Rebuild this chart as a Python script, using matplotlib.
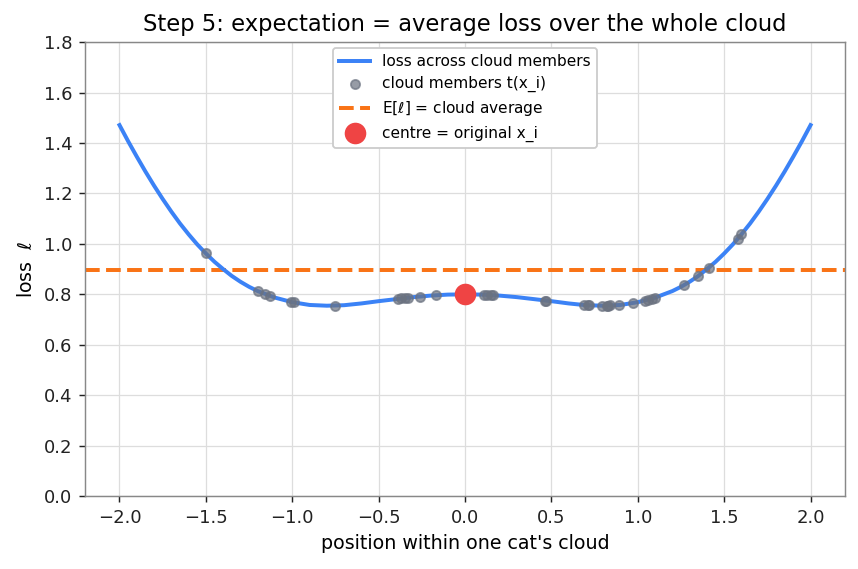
import matplotlib
matplotlib.use("Agg")
import matplotlib.pyplot as plt

# loss curve (symmetric around 0)
curve_x = [-2.0, -1.95, -1.9, -1.85, -1.8, -1.75, -1.7, -1.65, -1.6, -1.55, -1.5,
           -1.45, -1.4, -1.35, -1.3, -1.25, -1.2, -1.1, -1.0,
           -0.9, -0.8, -0.7, -0.6, -0.5, -0.4, -0.3, -0.2, -0.1, 0.0,
           0.1, 0.2, 0.3, 0.4, 0.5, 0.6, 0.7, 0.8, 0.9, 1.0,
           1.1, 1.2, 1.25, 1.3, 1.35, 1.4, 1.45, 1.5, 1.55, 1.6,
           1.65, 1.7, 1.75, 1.8, 1.85, 1.9, 1.95, 2.0]
curve_loss = [1.471, 1.407, 1.346, 1.287, 1.231, 1.178, 1.128, 1.081, 1.038, 0.998, 0.962,
              0.929, 0.900, 0.873, 0.850, 0.830, 0.813, 0.787, 0.769,
              0.758, 0.755, 0.757, 0.764, 0.773, 0.781, 0.789, 0.795, 0.799, 0.800,
              0.799, 0.795, 0.789, 0.781, 0.773, 0.764, 0.757, 0.755, 0.758, 0.769,
              0.787, 0.813, 0.830, 0.850, 0.873, 0.900, 0.929, 0.962, 0.998, 1.038,
              1.081, 1.128, 1.178, 1.231, 1.287, 1.346, 1.407, 1.471]

# cloud members
cloud_x = [-1.50, -1.20, -1.16, -1.13, -1.01, -0.99, -0.75, -0.39, -0.37, -0.35,
           -0.33, -0.26, -0.17, 0.11, 0.13, 0.15, 0.16, 0.46, 0.47, 0.69,
           0.71, 0.72, 0.79, 0.82, 0.83, 0.84, 0.89, 0.97, 1.04, 1.06,
           1.08, 1.10, 1.27, 1.35, 1.41, 1.58, 1.60]
cloud_loss = [0.962, 0.813, 0.802, 0.795, 0.770, 0.768, 0.755, 0.782, 0.784, 0.786,
              0.787, 0.791, 0.796, 0.798, 0.798, 0.797, 0.797, 0.775, 0.774, 0.757,
              0.757, 0.756, 0.755, 0.755, 0.755, 0.756, 0.759, 0.765, 0.775, 0.778,
              0.782, 0.787, 0.838, 0.873, 0.905, 1.020, 1.038]

expected_loss = 0.897
centre_x = 0.0
centre_loss = 0.80

fig, ax = plt.subplots(figsize=(6.6, 4.377), dpi=130)
fig.subplots_adjust(left=0.099, right=0.985, top=0.926, bottom=0.128)

ax.plot(curve_x, curve_loss, color="#3b82f6", lw=2.2, label="loss across cloud members", zorder=3)
ax.scatter(cloud_x, cloud_loss, s=26, color="#6b7280", alpha=0.7, label="cloud members t(x_i)", zorder=4)
ax.axhline(expected_loss, color="#f97316", lw=2.2, ls="--", label=r"E[$\ell$] = cloud average", zorder=2)
ax.scatter([centre_x], [centre_loss], s=120, color="#ef4444", label="centre = original x_i", zorder=5)

ax.set_xlim(-2.2, 2.2)
ax.set_ylim(0, 1.8)
ax.set_xticks([-2.0, -1.5, -1.0, -0.5, 0.0, 0.5, 1.0, 1.5, 2.0])
ax.set_yticks([0.0, 0.2, 0.4, 0.6, 0.8, 1.0, 1.2, 1.4, 1.6, 1.8])
ax.grid(True, color="#dddddd", lw=0.7)
ax.set_axisbelow(True)
for s in ax.spines.values():
    s.set_color("#888888")
ax.tick_params(colors="#222222", labelsize=10)

ax.set_title("Step 5: expectation = average loss over the whole cloud", fontsize=12.5)
ax.set_xlabel("position within one cat's cloud", fontsize=10.5)
ax.set_ylabel(r"loss  $\ell$", fontsize=10.5)
ax.legend(loc="upper center", fontsize=8.5, framealpha=1, borderaxespad=0.4, labelspacing=0.45)

plt.savefig("out.png")
